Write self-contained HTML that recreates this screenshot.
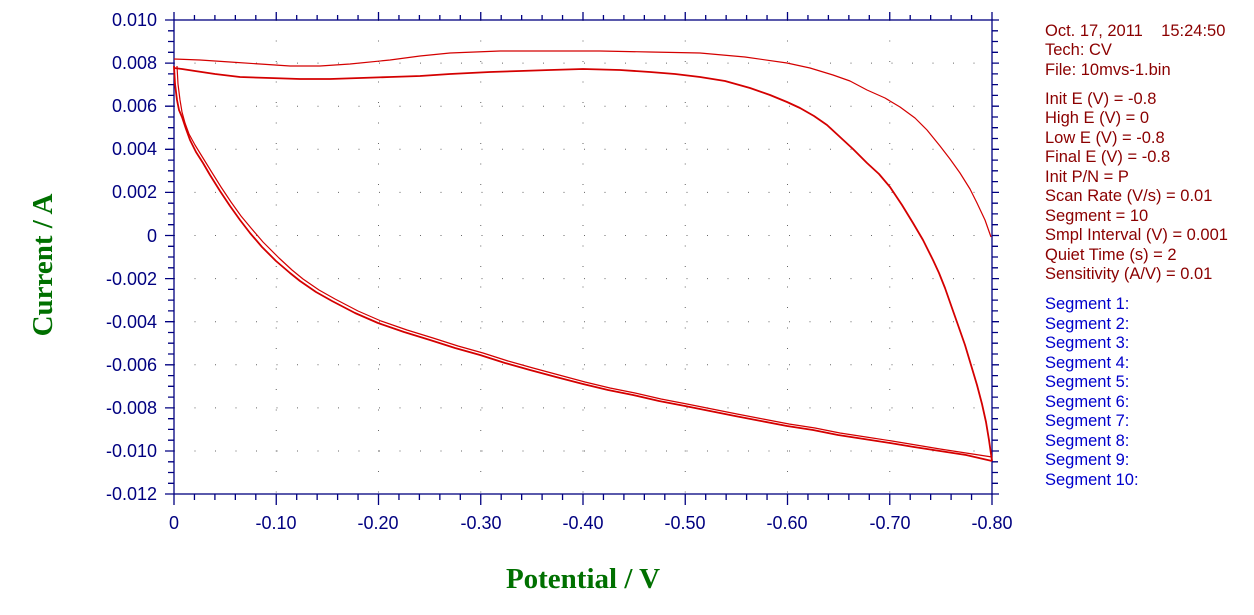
<!DOCTYPE html>
<html><head><style>
body{margin:0;background:#fff;width:1254px;height:610px;overflow:hidden}
</style></head><body>
<svg width="1254" height="610" xmlns="http://www.w3.org/2000/svg" font-family="Liberation Sans, sans-serif">
<g stroke="#666" stroke-width="1" stroke-dasharray="1 19.5" fill="none">
<path d="M276.25 20V494M378.5 20V494M480.75 20V494M583 20V494M685.25 20V494M787.5 20V494M889.75 20V494"/>
<path d="M174 63.1H992M174 106.2H992M174 149.3H992M174 192.4H992M174 235.5H992M174 278.6H992M174 321.7H992M174 364.8H992M174 407.9H992M174 451H992"/>
</g>
<g stroke="#000080" stroke-width="1.3" fill="none">
<rect x="174" y="20" width="818" height="474"/>
<path d="M174 20V12M194.45 20V15M214.9 20V15M235.35 20V15M255.8 20V15M276.25 20V12M296.7 20V15M317.15 20V15M337.6 20V15M358.05 20V15M378.5 20V12M398.95 20V15M419.4 20V15M439.85 20V15M460.3 20V15M480.75 20V12M501.2 20V15M521.65 20V15M542.1 20V15M562.55 20V15M583 20V12M603.45 20V15M623.9 20V15M644.35 20V15M664.8 20V15M685.25 20V12M705.7 20V15M726.15 20V15M746.6 20V15M767.05 20V15M787.5 20V12M807.95 20V15M828.4 20V15M848.85 20V15M869.3 20V15M889.75 20V12M910.2 20V15M930.65 20V15M951.1 20V15M971.55 20V15M992 20V12"/>
<path d="M174 494V505M194.45 494V500M214.9 494V500M235.35 494V500M255.8 494V500M276.25 494V505M296.7 494V500M317.15 494V500M337.6 494V500M358.05 494V500M378.5 494V505M398.95 494V500M419.4 494V500M439.85 494V500M460.3 494V500M480.75 494V505M501.2 494V500M521.65 494V500M542.1 494V500M562.55 494V500M583 494V505M603.45 494V500M623.9 494V500M644.35 494V500M664.8 494V500M685.25 494V505M705.7 494V500M726.15 494V500M746.6 494V500M767.05 494V500M787.5 494V505M807.95 494V500M828.4 494V500M848.85 494V500M869.3 494V500M889.75 494V505M910.2 494V500M930.65 494V500M951.1 494V500M971.55 494V500M992 494V505"/>
<path d="M174 20H165M174 30.8H168M174 41.5H168M174 52.3H168M174 63.1H165M174 73.9H168M174 84.6H168M174 95.4H168M174 106.2H165M174 117H168M174 127.7H168M174 138.5H168M174 149.3H165M174 160.1H168M174 170.8H168M174 181.6H168M174 192.4H165M174 203.2H168M174 213.9H168M174 224.7H168M174 235.5H165M174 246.3H168M174 257H168M174 267.8H168M174 278.6H165M174 289.4H168M174 300.1H168M174 310.9H168M174 321.7H165M174 332.5H168M174 343.2H168M174 354H168M174 364.8H165M174 375.6H168M174 386.3H168M174 397.1H168M174 407.9H165M174 418.7H168M174 429.4H168M174 440.2H168M174 451H165M174 461.8H168M174 472.5H168M174 483.3H168M174 494H165"/>
<path d="M992 20H999M992 30.8H998M992 41.5H998M992 52.3H998M992 63.1H999M992 73.9H998M992 84.6H998M992 95.4H998M992 106.2H999M992 117H998M992 127.7H998M992 138.5H998M992 149.3H999M992 160.1H998M992 170.8H998M992 181.6H998M992 192.4H999M992 203.2H998M992 213.9H998M992 224.7H998M992 235.5H999M992 246.3H998M992 257H998M992 267.8H998M992 278.6H999M992 289.4H998M992 300.1H998M992 310.9H998M992 321.7H999M992 332.5H998M992 343.2H998M992 354H998M992 364.8H999M992 375.6H998M992 386.3H998M992 397.1H998M992 407.9H999M992 418.7H998M992 429.4H998M992 440.2H998M992 451H999M992 461.8H998M992 472.5H998M992 483.3H998M992 494H999"/>
</g>
<g fill="#000080" font-size="18" text-anchor="end">
<text x="157" y="26">0.010</text><text x="157" y="69">0.008</text><text x="157" y="112">0.006</text><text x="157" y="155">0.004</text><text x="157" y="198">0.002</text><text x="157" y="242">0</text><text x="157" y="285">-0.002</text><text x="157" y="328">-0.004</text><text x="157" y="371">-0.006</text><text x="157" y="414">-0.008</text><text x="157" y="457">-0.010</text><text x="157" y="500">-0.012</text>
</g>
<g fill="#000080" font-size="18" text-anchor="middle">
<text x="174" y="529">0</text><text x="276" y="529">-0.10</text><text x="378" y="529">-0.20</text><text x="481" y="529">-0.30</text><text x="583" y="529">-0.40</text><text x="685" y="529">-0.50</text><text x="787" y="529">-0.60</text><text x="890" y="529">-0.70</text><text x="992" y="529">-0.80</text>
</g>
<text x="583" y="588" font-family="Liberation Serif, serif" font-weight="bold" font-size="29" fill="#007000" text-anchor="middle">Potential / V</text>
<text transform="translate(52,265) rotate(-90)" font-family="Liberation Serif, serif" font-weight="bold" font-size="29" fill="#007000" text-anchor="middle">Current / A</text>
<g fill="none" stroke="#d40000" stroke-width="1.2" stroke-linejoin="round">
<polyline points="174,59 200,60 230,62 260,64 290,66 320,66 350,64 390,60 420,56 450,53 500,51 550,51 600,51 650,52 700,53 745,57 787,63 810,68 833,75 850,81 867,90 885,98 900,107 915,118 927,130 940,146 950,159 960,173 970,189 977,203 985,220 991,237"/>
<polyline points="177,66 178,84 180,100 182,112 185,123 189,134 195,145 203,158 211,171 221,187 231,202 241,216 251,228 263,242 279,258 292,270 303,279 319,290 335,299 358,311 381,321 407,330 433,338 458,346 483,353 508,361 533,368 559,375 585,382 610,388 635,393 661,399 687,404 712,409 737,414 763,419 789,424 815,428 840,433 866,437 892,441 916,445 940,449 966,453 992,457"/>
<polyline stroke-width="1.8" points="174,66 175,84 177,100 179,110 182,117 186,129 190,140 196,152 203,163 210,175 220,191 230,206 240,220 250,233 262,247 276,261 290,273 300,281 316,292 332,301 355,313 378,323 404,332 430,340 455,348 480,355 505,363 530,370 556,377 583,384 608,390 633,395 659,401 685,406 710,411 735,416 761,421 787,426 813,430 838,435 864,439 890,443 914,447 940,451 966,455 992,461"/>
<polyline stroke-width="1.8" points="992,461 989,440 986,422 982,404 977,385 971,365 965,345 958,325 952,308 945,288 939,273 933,260 923,240 913,223 902,205 890,187 879,174 867,163 853,149 840,137 827,125 814,116 800,108 787,102 770,95 750,88 725,81 700,77 675,74 650,72 620,70 583,69 550,70 520,71 490,72 450,74 420,76 390,77 360,78 330,79 300,79 270,78 240,77 215,74 195,71 182,69 174,68"/>
</g>
<g font-size="16.5" fill="#8b0000">
<text x="1045" y="36">Oct. 17, 2011&#160;&#160;&#160;&#160;15:24:50</text>
<text x="1045" y="55">Tech: CV</text>
<text x="1045" y="75">File: 10mvs-1.bin</text>
<text x="1045" y="104">Init E (V) = -0.8</text>
<text x="1045" y="123">High E (V) = 0</text>
<text x="1045" y="143">Low E (V) = -0.8</text>
<text x="1045" y="162">Final E (V) = -0.8</text>
<text x="1045" y="182">Init P/N = P</text>
<text x="1045" y="201">Scan Rate (V/s) = 0.01</text>
<text x="1045" y="221">Segment = 10</text>
<text x="1045" y="240">Smpl Interval (V) = 0.001</text>
<text x="1045" y="260">Quiet Time (s) = 2</text>
<text x="1045" y="279">Sensitivity (A/V) = 0.01</text>
</g>
<g font-size="16.5" fill="#0000cc">
<text x="1045" y="309">Segment 1:</text><text x="1045" y="329">Segment 2:</text><text x="1045" y="348">Segment 3:</text><text x="1045" y="368">Segment 4:</text><text x="1045" y="387">Segment 5:</text><text x="1045" y="407">Segment 6:</text><text x="1045" y="426">Segment 7:</text><text x="1045" y="446">Segment 8:</text><text x="1045" y="465">Segment 9:</text><text x="1045" y="485">Segment 10:</text>
</g>
</svg>
</body></html>
